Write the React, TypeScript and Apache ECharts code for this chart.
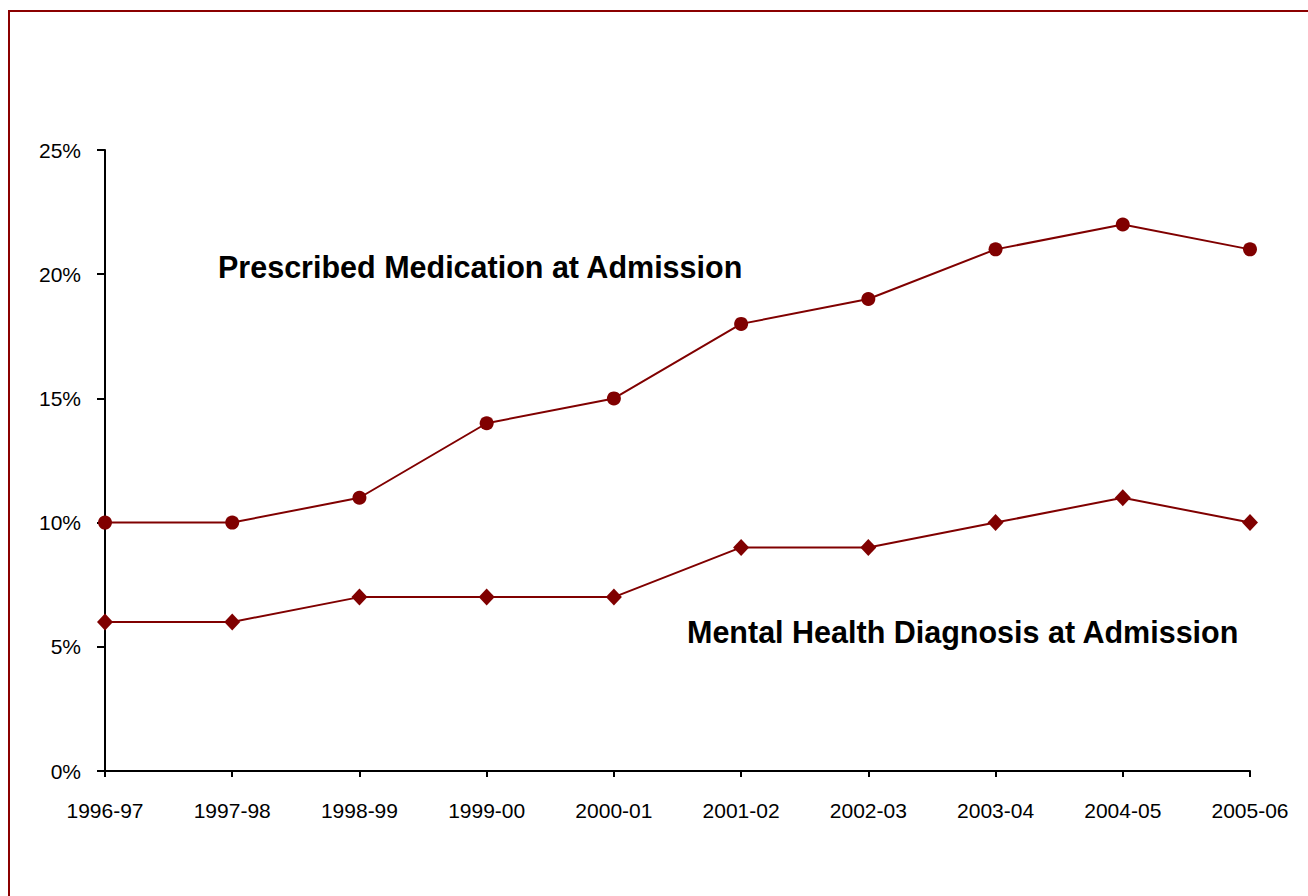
import React, { useEffect, useRef } from "react";
import * as echarts from "echarts";

const categories = ["1996-97", "1997-98", "1998-99", "1999-00", "2000-01", "2001-02", "2002-03", "2003-04", "2004-05", "2005-06"];
const prescribedMedication = [10, 10, 11, 14, 15, 18, 19, 21, 22, 21];
const mentalHealthDiagnosis = [6, 6, 7, 7, 7, 9, 9, 10, 11, 10];
const seriesNames = ["Prescribed Medication at Admission", "Mental Health Diagnosis at Admission"];

const RED = "#800000";
const FONT = "'Liberation Sans', Arial, sans-serif";

export default function App() {
  const ref = useRef<HTMLDivElement>(null);
  useEffect(() => {
    document.body.style.margin = "0";
    const chart = echarts.init(ref.current!, null, { renderer: "svg" });
    chart.setOption({
      animation: false,
      backgroundColor: "#ffffff",
      grid: { left: 105, right: 58, top: 150, bottom: 125, containLabel: false },
      xAxis: {
        type: "category",
        data: categories,
        boundaryGap: false,
        axisLine: { lineStyle: { color: "#000", width: 2 } },
        axisTick: { show: true, length: 6, alignWithLabel: true, lineStyle: { color: "#000", width: 2 } },
        axisLabel: { color: "#000", fontSize: 21, fontFamily: FONT, margin: 29 },
        splitLine: { show: false },
      },
      yAxis: {
        type: "value",
        min: 0,
        max: 25,
        interval: 5,
        axisLine: { show: true, lineStyle: { color: "#000", width: 2 } },
        axisTick: { show: true, length: 8, lineStyle: { color: "#000", width: 2 } },
        axisLabel: { color: "#000", fontSize: 21, fontFamily: FONT, margin: 24, formatter: "{value}%" },
        splitLine: { show: false },
      },
      series: [
        {
          name: seriesNames[0],
          type: "line",
          data: prescribedMedication,
          symbol: "circle",
          symbolSize: 14,
          itemStyle: { color: RED },
          lineStyle: { color: RED, width: 2 },
        },
        {
          name: seriesNames[1],
          type: "line",
          data: mentalHealthDiagnosis,
          symbol: "diamond",
          symbolSize: [16, 17],
          itemStyle: { color: RED },
          lineStyle: { color: RED, width: 2 },
        },
      ],
      graphic: [
        {
          type: "rect",
          shape: { x: 9, y: 11, width: 1400, height: 1000 },
          style: { fill: "none", stroke: "#8B0000", lineWidth: 2 },
          silent: true,
        },
        {
          type: "text",
          x: 218,
          y: 267,
          style: {
            text: seriesNames[0],
            fill: "#000",
            font: "bold 30.5px 'Liberation Sans', Arial, sans-serif",
            textVerticalAlign: "middle",
          },
        },
        {
          type: "text",
          x: 687,
          y: 632,
          style: {
            text: seriesNames[1],
            fill: "#000",
            font: "bold 30.5px 'Liberation Sans', Arial, sans-serif",
            textVerticalAlign: "middle",
          },
        },
      ],
    });
    return () => chart.dispose();
  }, []);
  return <div ref={ref} style={{ position: "absolute", left: 0, top: 0, width: 1308, height: 896 }} />;
}
